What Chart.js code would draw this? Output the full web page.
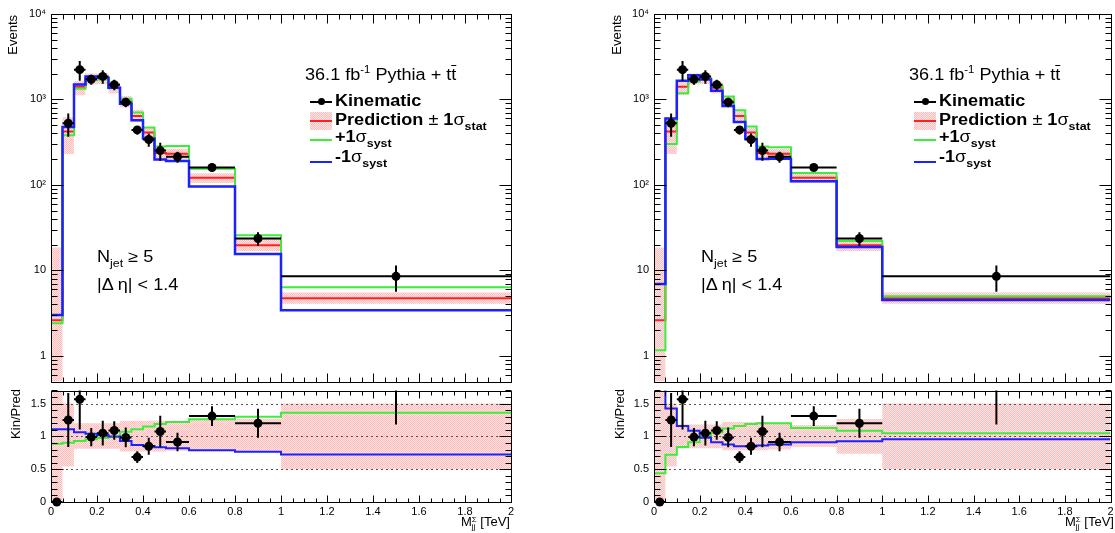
<!DOCTYPE html>
<html>
<head>
<meta charset="utf-8">
<script src="https://cdn.jsdelivr.net/npm/chart.js@4.4.0/dist/chart.umd.min.js"></script>
<style>
  body { margin: 0; background: #fff; }
  #fig { position: relative; width: 1115px; height: 533px; overflow: hidden; font-family: 'Liberation Sans', Arial, Helvetica, sans-serif; color: #000; }
  canvas { position: absolute; }
  .t { position: absolute; white-space: nowrap; font-size: 16px; line-height: 16px; transform: scaleX(1.13); transform-origin: left top; }
  .sup { font-size: 10px; position: relative; top: -7px; }
  .sub { font-size: 11px; position: relative; top: 5px; font-weight: bold; }
  .sub2 { font-size: 11px; position: relative; top: 5px; }
  .bar { text-decoration: overline; }
  .ytitle { position: absolute; writing-mode: vertical-rl; transform: rotate(180deg); font-size: 13px; line-height: 14px; white-space: nowrap; }
  .xtitle { position: absolute; font-size: 13px; line-height: 13px; text-align: right; white-space: nowrap; }
  .ms { display: inline-block; vertical-align: -3px; font-size: 8px; line-height: 7px; text-align: left; }
  .ms span { display: block; }
  .mk { position: absolute; }
</style>
</head>
<body>
<div id="fig">
  <canvas id="topL" width="557" height="386" style="left:0px;top:0px"></canvas>
  <canvas id="ratioL" width="557" height="147" style="left:0px;top:386px"></canvas>
  <canvas id="topR" width="558" height="386" style="left:557px;top:0px"></canvas>
  <canvas id="ratioR" width="558" height="147" style="left:557px;top:386px"></canvas>
</div>
<script>
// M_jj^Sigma bin edges [TeV]
const binEdges = [0, 0.05, 0.1, 0.15, 0.2, 0.25, 0.3, 0.35, 0.4, 0.45, 0.5, 0.6, 0.8, 1.0, 2.0]

// kinematic estimate (points) and errors
const kinematic = [0, 526, 2230, 1720, 1860, 1490, 930, 440, 340, 252, 213, 160, 23.6, 8.5]
const kinematicErr = [0, 160, 580, 230, 330, 210, 120, 50, 60, 60, 31, 14, 4.3, 2.9]

// prediction and stat band
const prediction = [2.6, 421, 1405, 1755, 1760, 1368, 955, 640, 410, 236, 232, 121, 19.7, 4.72]
const predStatLo = [0.1, 230, 1120, 1500, 1520, 1170, 810, 545, 355, 204, 200, 105, 16.8, 4.05]
const predStatHi = [18.5, 618, 1630, 2010, 2010, 1570, 1100, 760, 470, 265, 265, 137, 23.5, 5.5]

// syst variations, left panel
const systUpL = [2.4, 381, 1330, 1690, 1715, 1355, 1020, 705, 470, 282, 286, 155, 25.7, 6.35]
const systDownL = [3.0, 477, 1494, 1850, 1800, 1368, 890, 570, 350, 198, 191, 96, 15.5, 3.4]
// syst variations, right panel
const systUpR = [1.16, 300, 1178, 1620, 1755, 1450, 1080, 745, 482, 282, 276, 138, 22, 4.96]
const systDownR = [6.9, 598, 1650, 1925, 1710, 1260, 836, 545, 345, 201, 202, 110, 18.8, 4.5]

// Kin/Pred ratio
const ratio = [0, 1.25, 1.565, 0.99, 1.05, 1.09, 0.985, 0.685, 0.85, 1.075, 0.915, 1.31, 1.2, 1.8]
const ratioErr = [0, 0.41, 0.46, 0.14, 0.19, 0.14, 0.15, 0.09, 0.13, 0.24, 0.14, 0.15, 0.22, 0.62]

const ratioBandLoL = [0, 0.54, 0.81, 0.81, 0.81, 0.81, 0.77, 0.77, 0.77, 0.77, 0.78, 0.775, 0.765, 0.5]
const ratioBandHiL = [2, 1.5, 1.2, 1.2, 1.2, 1.2, 1.24, 1.24, 1.24, 1.24, 1.23, 1.27, 1.27, 1.5]
const ratioBandLoR = [0, 0.54, 0.82, 0.82, 0.82, 0.82, 0.79, 0.79, 0.79, 0.79, 0.8, 0.84, 0.735, 0.5]
const ratioBandHiR = [2, 1.5, 1.18, 1.18, 1.18, 1.18, 1.22, 1.22, 1.22, 1.22, 1.2, 1.175, 1.265, 1.5]

const systUpRatioL = [0.89, 0.905, 0.93, 0.955, 0.975, 0.99, 1.07, 1.11, 1.15, 1.19, 1.22, 1.26, 1.30, 1.36]
const systDownRatioL = [1.11, 1.11, 1.065, 1.04, 1.02, 1.0, 0.93, 0.87, 0.855, 0.835, 0.82, 0.79, 0.765, 0.725]
const systUpRatioR = [0.44, 0.72, 0.84, 0.91, 1.0, 1.06, 1.12, 1.16, 1.19, 1.2, 1.2, 1.13, 1.085, 1.05]
const systDownRatioR = [2.6, 1.425, 1.16, 1.085, 0.98, 0.91, 0.875, 0.85, 0.85, 0.86, 0.875, 0.91, 0.925, 0.955]

// axis ticks
const xTicks = [0, 0.2, 0.4, 0.6, 0.8, 1, 1.2, 1.4, 1.6, 1.8, 2]
const xTickLabels = ['0', '0.2', '0.4', '0.6', '0.8', '1', '1.2', '1.4', '1.6', '1.8', '2']
const decadeTicks = [1, 10, 100, 1000, 10000]
const decadeLabels = ['1', '10', '10\u00b2', '10\u00b3', '10\u2074']
const ratioTicks = [0, 0.5, 1, 1.5]
const ratioTickLabels = ['0', '0.5', '1', '1.5']

const RED = '#ff2020', GREEN = '#3ded3d', BLUE = '#1a22ff'

// minor tick positions
let xMinor = []
for (let v = 0; v <= 2.0001; v += 0.05) xMinor.push(v)
let logMinor = []
for (let k = -1; k <= 3; k++) for (let m = 2; m <= 9; m++) { let v = m * Math.pow(10, k); if (v >= 0.5 && v <= 10000) logMinor.push(v) }
let ratioMinor = []
for (let v = 0; v <= 1.7001; v += 0.1) ratioMinor.push(v)

// dotted pink fill used for the stat band
function pinkPattern() {
  let c = document.createElement('canvas')
  c.width = 2; c.height = 2
  let g = c.getContext('2d')
  g.fillStyle = '#ffe4e4'; g.fillRect(0, 0, 2, 2)
  g.fillStyle = '#ffbcbc'; g.fillRect(0, 0, 1, 1); g.fillRect(1, 1, 1, 1)
  return g.createPattern(c, 'repeat')
}
const pink = pinkPattern()

function histPoints(vals) {
  let pts = []
  vals.forEach((v, i) => {
    pts.push({ x: binEdges[i], y: v })
    pts.push({ x: binEdges[i + 1], y: v })
  })
  return pts
}

function centerPoints(vals, skipZero) {
  return vals.map((v, i) => ({ x: (binEdges[i] + binEdges[i + 1]) / 2, y: (skipZero && v <= 0) ? null : v }))
}

function lineSet(pts, color, width, order) {
  return { data: pts, borderColor: color, borderWidth: width, pointRadius: 0, fill: false, tension: 0, order: order }
}

function bandSets(lo, hi, order) {
  return [
    { data: histPoints(hi), borderColor: 'rgba(0,0,0,0)', borderWidth: 0, pointRadius: 0, fill: '+1', backgroundColor: pink, order: order },
    { data: histPoints(lo), borderColor: 'rgba(0,0,0,0)', borderWidth: 0, pointRadius: 0, fill: false, order: order + 1 }
  ]
}

// ROOT-like frame: box, inward ticks on all sides, dotted lines, error bars
const rootFrame = {
  id: 'rootFrame',
  afterDatasetsDraw(chart, args, o) {
    const { ctx, chartArea: a, scales: { x, y } } = chart
    if (o.dotted) {
      ctx.save()
      ctx.strokeStyle = '#555'; ctx.lineWidth = 1; ctx.setLineDash([2, 3])
      o.dotted.forEach(v => {
        let py = Math.round(y.getPixelForValue(v)) + 0.5
        ctx.beginPath(); ctx.moveTo(a.left, py); ctx.lineTo(a.right, py); ctx.stroke()
      })
      ctx.restore()
    }
    chart.data.datasets.forEach(ds => {
      if (!ds.errY) return
      ctx.save()
      ctx.beginPath(); ctx.rect(a.left, a.top, a.right - a.left, a.bottom - a.top); ctx.clip()
      ctx.strokeStyle = '#000'; ctx.lineWidth = 2
      ds.data.forEach((p, i) => {
        if (p.y == null) return
        let px = x.getPixelForValue(p.x), py = y.getPixelForValue(p.y)
        ctx.beginPath()
        ctx.moveTo(x.getPixelForValue(binEdges[i]), py)
        ctx.lineTo(x.getPixelForValue(binEdges[i + 1]), py)
        if (ds.errY[i] > 0) {
          ctx.moveTo(px, y.getPixelForValue(p.y + ds.errY[i]))
          ctx.lineTo(px, y.getPixelForValue(p.y - ds.errY[i]))
        }
        ctx.stroke()
      })
      ctx.restore()
    })
  },
  afterDraw(chart, args, o) {
    const { ctx, chartArea: a, scales: { x, y } } = chart
    let L = Math.round(a.left) + 0.5, R = Math.round(a.right) + 0.5
    let T = Math.round(a.top) + 0.5, B = Math.round(a.bottom) + 0.5
    ctx.save()
    ctx.strokeStyle = '#000'; ctx.lineWidth = 1
    ctx.beginPath()
    ctx.rect(L, T, R - L, B - T)
    let xs = (vals, len) => vals.forEach(v => {
      let px = Math.round(x.getPixelForValue(v)) + 0.5
      ctx.moveTo(px, B); ctx.lineTo(px, B - len)
      ctx.moveTo(px, T); ctx.lineTo(px, T + len)
    })
    let ys = (vals, len) => vals.forEach(v => {
      let py = Math.round(y.getPixelForValue(v)) + 0.5
      ctx.moveTo(L, py); ctx.lineTo(L + len, py)
      ctx.moveTo(R, py); ctx.lineTo(R - len, py)
    })
    xs(o.xMajor, o.xLen[0]); xs(o.xMinor, o.xLen[1])
    ys(o.yMajor, o.yLen[0]); ys(o.yMinor, o.yLen[1])
    ctx.stroke()
    ctx.restore()
  }
}

const tickFont = { family: "'Liberation Sans', Arial, sans-serif", size: 11 }

function topChart(id, up, down, padLeft, padRight) {
  const ctx = document.getElementById(id).getContext('2d')
  new Chart(ctx, {
    type: 'line',
    data: {
      datasets: [
        { data: centerPoints(kinematic, true), errY: kinematicErr, showLine: false, pointRadius: 4.5, pointBackgroundColor: '#000', pointBorderWidth: 0, borderColor: '#000', order: 0 },
        lineSet(histPoints(down), BLUE, 2.5, 1),
        lineSet(histPoints(up), GREEN, 2, 2),
        lineSet(histPoints(prediction), RED, 2, 3),
        ...bandSets(predStatLo, predStatHi, 4)
      ]
    },
    options: {
      responsive: false, animation: false, events: [],
      layout: { padding: { left: padLeft, right: padRight, top: 14, bottom: 1 } },
      plugins: {
        legend: { display: false }, tooltip: { enabled: false },
        rootFrame: { xMajor: xTicks, xMinor: xMinor, yMajor: decadeTicks, yMinor: logMinor, xLen: [9, 5], yLen: [12, 6] }
      },
      scales: {
        x: { type: 'linear', min: 0, max: 2, display: false },
        y: {
          type: 'logarithmic', min: 0.5, max: 10000,
          afterBuildTicks: s => { s.ticks = decadeTicks.map(v => ({ value: v })) },
          afterFit: s => { s.width = 51; s.paddingTop = 0; s.paddingBottom = 0 },
          ticks: { autoSkip: false, padding: 5, color: '#000', font: tickFont, callback: (v, i) => decadeLabels[i] },
          grid: { display: false, drawTicks: false },
          border: { display: false }
        }
      }
    },
    plugins: [rootFrame]
  })
}

function ratioChart(id, up, down, bandLo, bandHi, padLeft, padRight) {
  const ctx = document.getElementById(id).getContext('2d')
  new Chart(ctx, {
    type: 'line',
    data: {
      datasets: [
        { data: centerPoints(ratio, false), errY: ratioErr, showLine: false, pointRadius: 4.5, pointBackgroundColor: '#000', pointBorderWidth: 0, borderColor: '#000', order: 0, clip: { left: 6, top: 0, right: 6, bottom: 6 } },
        lineSet(histPoints(down), BLUE, 2, 1),
        lineSet(histPoints(up), GREEN, 2, 2),
        ...bandSets(bandLo, bandHi, 3)
      ]
    },
    options: {
      responsive: false, animation: false, events: [],
      layout: { padding: { left: padLeft, right: padRight, top: 2, bottom: 0 } },
      plugins: {
        legend: { display: false }, tooltip: { enabled: false },
        rootFrame: { xMajor: xTicks, xMinor: xMinor, yMajor: ratioTicks, yMinor: ratioMinor, xLen: [7, 4], yLen: [12, 6], dotted: [0.5, 1, 1.5] }
      },
      scales: {
        x: {
          type: 'linear', min: 0, max: 2,
          afterBuildTicks: s => { s.ticks = xTicks.map(v => ({ value: v })) },
          afterFit: s => { s.height = 31; s.paddingLeft = 0; s.paddingRight = 0 },
          ticks: { autoSkip: false, maxRotation: 0, padding: 3, color: '#000', font: tickFont, callback: (v, i) => xTickLabels[i] },
          grid: { display: false, drawTicks: false },
          border: { display: false }
        },
        y: {
          type: 'linear', min: 0, max: 1.7,
          afterBuildTicks: s => { s.ticks = ratioTicks.map(v => ({ value: v })) },
          afterFit: s => { s.width = 51; s.paddingTop = 0; s.paddingBottom = 0 },
          ticks: { autoSkip: false, padding: 5, color: '#000', font: tickFont, callback: (v, i) => ratioTickLabels[i] },
          grid: { display: false, drawTicks: false },
          border: { display: false }
        }
      }
    },
    plugins: [rootFrame]
  })
}

topChart('topL', systUpL, systDownL, 0, 46)
ratioChart('ratioL', systUpRatioL, systDownRatioL, ratioBandLoL, ratioBandHiL, 0, 46)
topChart('topR', systUpR, systDownR, 46, 2)
ratioChart('ratioR', systUpRatioR, systDownRatioR, ratioBandLoR, ratioBandHiR, 46, 2)

// titles, legend and cut labels for one panel
function panelText(dx) {
  return `
  <div class="ytitle" style="left:${6 + dx}px;top:15px">Events</div>
  <div class="ytitle" style="left:${9 + dx}px;top:389px">Kin/Pred</div>
  <div class="xtitle" style="left:${380 + dx}px;top:515px;width:130px">M<span class="ms"><span>&Sigma;</span><span>jj</span></span> [TeV]</div>
  <div class="t" style="left:${305 + dx}px;top:67px">36.1 fb<span class="sup">-1</span> Pythia + t<span class="bar">t</span></div>
  <div class="mk" style="left:${310 + dx}px;top:101px;width:22px;height:2px;background:#000"></div>
  <div class="mk" style="left:${318 + dx}px;top:98px;width:7px;height:7px;border-radius:50%;background:#000"></div>
  <div class="t" style="left:${335 + dx}px;top:93px"><b>Kinematic</b></div>
  <div class="mk" style="left:${310 + dx}px;top:112px;width:22px;height:18px;background:repeating-conic-gradient(#ffbcbc 0 25%, #ffe4e4 0 50%) 0 0/2px 2px"></div>
  <div class="mk" style="left:${310 + dx}px;top:120px;width:22px;height:2px;background:${RED}"></div>
  <div class="t" style="left:${335 + dx}px;top:112px"><b>Prediction</b> &plusmn; <b>1</b>&sigma;<span class="sub">stat</span></div>
  <div class="mk" style="left:${310 + dx}px;top:139px;width:22px;height:2px;background:${GREEN}"></div>
  <div class="t" style="left:${335 + dx}px;top:129px"><b>+1</b>&sigma;<span class="sub">syst</span></div>
  <div class="mk" style="left:${310 + dx}px;top:161px;width:22px;height:2px;background:${BLUE}"></div>
  <div class="t" style="left:${335 + dx}px;top:149px"><b>-1</b>&sigma;<span class="sub">syst</span></div>
  <div class="t" style="left:${97 + dx}px;top:249px">N<span class="sub2">jet</span> &ge; 5</div>
  <div class="t" style="left:${97 + dx}px;top:277px">|&Delta; &eta;| &lt; 1.4</div>`
}
document.getElementById('fig').insertAdjacentHTML('beforeend', panelText(0) + panelText(604))
</script>
</body>
</html>
